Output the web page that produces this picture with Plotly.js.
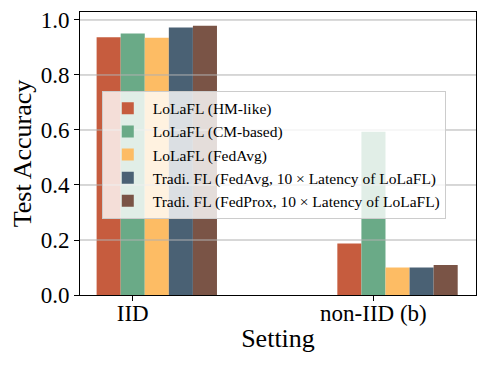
<!DOCTYPE html>
<html>
<head>
<meta charset="utf-8">
<script src="https://cdn.plot.ly/plotly-3.0.1.min.js"></script>
<style>
  body { margin: 0; }
  #chart { width: 488px; height: 366px; }
</style>
</head>
<body>
<div id="chart"></div>
<script>
// settings on the x axis
let settings = ['IID', 'non-IID (b)'];

// test accuracy for each method
let hmLike = [0.937, 0.187];
let cmBased = [0.951, 0.594];
let fedAvg = [0.935, 0.100];
let tradiFedAvg = [0.973, 0.100];
let tradiFedProx = [0.979, 0.109];

let names = [
  'LoLaFL (HM-like)',
  'LoLaFL (CM-based)',
  'LoLaFL (FedAvg)',
  'Tradi. FL (FedAvg, 10 \u00d7 Latency of LoLaFL)',
  'Tradi. FL (FedProx, 10 \u00d7 Latency of LoLaFL)'
];
let series = [hmLike, cmBased, fedAvg, tradiFedAvg, tradiFedProx];
let colors = ['#c65c3e', '#6aaa87', '#fdbc64', '#4a6174', '#7a5446'];

let yTicks = [0.0, 0.2, 0.4, 0.6, 0.8, 1.0];

let barWidth = 0.1;
let serif = 'Liberation Serif';

// ticks sit under the second bar of each group
let data = series.map(function (vals, i) {
  return {
    type: 'bar',
    x: settings,
    y: vals,
    name: names[i],
    width: barWidth,
    offset: -1.5 * barWidth + i * barWidth,
    marker: { color: colors[i], line: { width: 0 } }
  };
});

// gridlines drawn over the bars, like the original
let gridShapes = yTicks.slice(1).map(function (v) {
  return {
    type: 'line', xref: 'paper', yref: 'y',
    x0: 0, x1: 1, y0: v, y1: v,
    line: { color: '#b0b0b0', width: 1 },
    layer: 'above'
  };
});

let layout = {
  width: 488,
  height: 366,
  margin: { l: 80, r: 12, t: 12, b: 71 },
  paper_bgcolor: 'white',
  plot_bgcolor: 'white',
  font: { family: serif, color: 'black' },
  barmode: 'overlay',
  showlegend: true,
  xaxis: {
    type: 'category',
    range: [-0.219, 1.426],
    showgrid: false,
    showline: true,
    linecolor: 'black',
    linewidth: 1,
    mirror: true,
    ticks: 'outside',
    ticklen: 5,
    tickcolor: 'black',
    ticklabelstandoff: -8,
    tickfont: { family: serif, size: 23, color: 'black' },
    title: { text: 'Setting', font: { family: serif, size: 26 }, standoff: 4 }
  },
  yaxis: {
    range: [0, 1.029],
    tickvals: yTicks,
    ticktext: yTicks.map(function (v) { return v.toFixed(1); }),
    showgrid: false,
    zeroline: false,
    showline: true,
    linecolor: 'black',
    linewidth: 1,
    mirror: true,
    ticks: 'outside',
    ticklen: 5,
    tickcolor: 'black',
    tickfont: { family: serif, size: 23, color: 'black' },
    title: { text: 'Test Accuracy', font: { family: serif, size: 26 }, standoff: 1 }
  },
  legend: {
    x: 0.055,
    y: 0.722,
    xanchor: 'left',
    yanchor: 'top',
    bgcolor: 'rgba(255,255,255,0.8)',
    bordercolor: '#cccccc',
    borderwidth: 1,
    font: { family: serif, size: 15.5 },
    itemwidth: 40,
    traceorder: 'normal'
  },
  shapes: gridShapes
};

Plotly.newPlot('chart', data, layout, { displayModeBar: false });
</script>
</body>
</html>
